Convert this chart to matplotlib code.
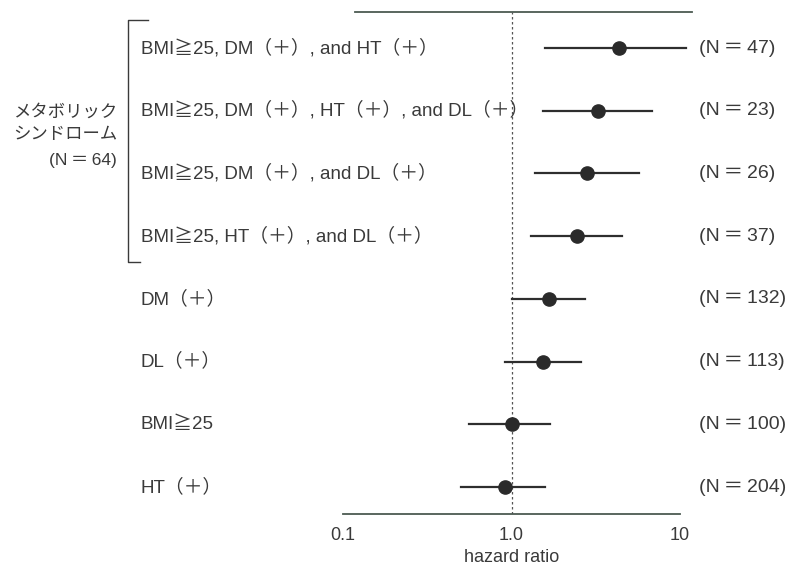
import matplotlib.pyplot as plt
from matplotlib.transforms import blended_transform_factory
from matplotlib.lines import Line2D

plt.rcParams['font.family'] = ['Liberation Sans', 'Noto Sans CJK JP']

# forest plot data (top to bottom)
labels = ["BMI≧25, DM（＋）, and HT（＋）",
          "BMI≧25, DM（＋）, HT（＋）, and DL（＋）",
          "BMI≧25, DM（＋）, and DL（＋）",
          "BMI≧25, HT（＋）, and DL（＋）",
          "DM（＋）",
          "DL（＋）",
          "BMI≧25",
          "HT（＋）"]
n_labels = ["(N\u2009＝\u200947)", "(N\u2009＝\u200923)", "(N\u2009＝\u200926)",
            "(N\u2009＝\u200937)", "(N\u2009＝\u2009132)", "(N\u2009＝\u2009113)",
            "(N\u2009＝\u2009100)", "(N\u2009＝\u2009204)"]
hr = [4.36, 3.27, 2.82, 2.46, 1.66, 1.53, 1.0, 0.91]
ci_low = [1.57, 1.53, 1.37, 1.31, 1.0, 0.91, 0.56, 0.50]
ci_high = [10.9, 6.83, 5.72, 4.54, 2.74, 2.60, 1.70, 1.59]
group_label = ["メタボリック", "シンドローム", "(N\u2009＝\u200964)"]
xticks = [0.1, 1.0, 10]
xticklabels = ["0.1", "1.0", "10"]

W, H = 793, 571
txt = '#3a3a3a'
fig = plt.figure(figsize=(W / 100, H / 100), dpi=100)
ax = fig.add_axes([343 / W, 1 - 514 / H, 337 / W, 502 / H])

rows = list(range(len(labels)))
ax.set_xscale('log')
ax.set_xlim(0.1, 10)
ax.set_ylim(7.43, -0.574)

ax.axvline(1.0, color='#555555', ls=(0, (2, 2)), lw=0.9, zorder=1)
for y, m, lo, hi in zip(rows, hr, ci_low, ci_high):
    ax.plot([lo, hi], [y, y], color='#2e2e2e', lw=1.6, clip_on=False, zorder=2)
    ax.plot(m, y, 'o', color='#2a2a2a', ms=9.5, clip_on=False, zorder=3)

for s in ['left', 'right', 'top']:
    ax.spines[s].set_visible(False)
ax.spines['bottom'].set_color('#4c5a52')
ax.spines['bottom'].set_linewidth(1.3)
# top rule
ax.plot([0.036, 1.036], [1, 1], transform=ax.transAxes, color='#4c5a52',
        lw=1.3, clip_on=False)

ax.set_yticks([])
ax.set_xticks(xticks)
ax.set_xticklabels(xticklabels, fontsize=13, color=txt)
ax.xaxis.set_minor_locator(plt.NullLocator())
ax.tick_params(axis='x', length=0, pad=9)
ax.set_xlabel("hazard ratio", fontsize=13, color=txt, labelpad=4)

tr = blended_transform_factory(fig.transFigure, ax.transData)
for y, lab in zip(rows, labels):
    ax.text(141 / W, y, lab, transform=tr, ha='left', va='center',
            fontsize=13.5, color=txt)
for y, lab in zip(rows, n_labels):
    ax.text(699 / W, y, lab, transform=tr, ha='left', va='center',
            fontsize=14, color=txt)

# bracket for metabolic syndrome group
bx = [148 / W, 128 / W, 128 / W, 140 / W]
by = [1 - 20 / H, 1 - 20 / H, 1 - 262 / H, 1 - 262 / H]
fig.add_artist(Line2D(bx, by, transform=fig.transFigure, color='#3a3a3a', lw=1.0))

for t, py in zip(group_label, [112, 135, 160]):
    fig.text(117 / W, 1 - py / H, t, ha='right', va='center',
             fontsize=12.5, color=txt)

fig.savefig('out.png', dpi=100, facecolor='white')
